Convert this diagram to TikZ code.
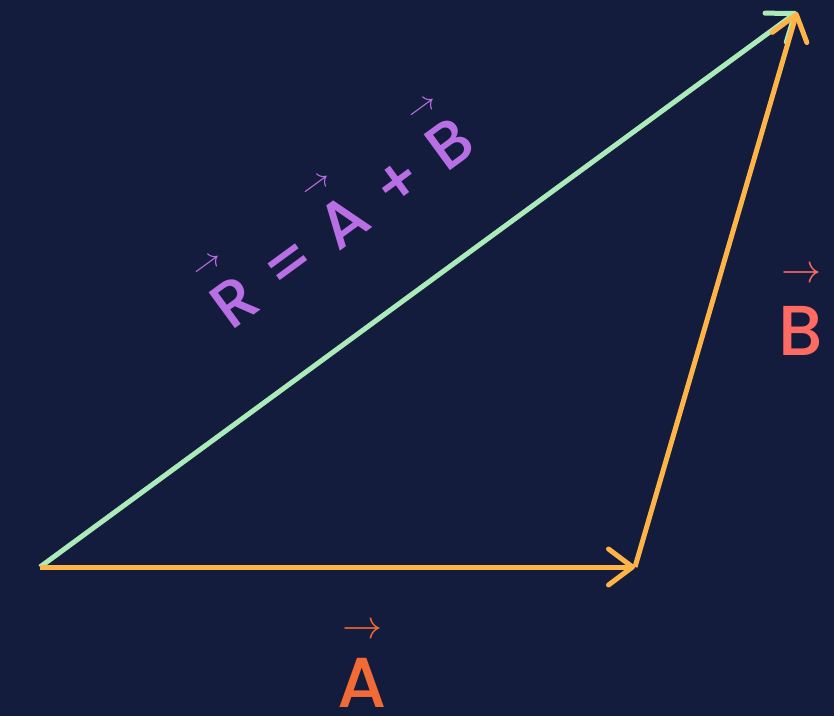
\documentclass[tikz,border=0pt]{standalone}
\usepackage{fontspec}
\usepackage{graphicx}
\setmainfont{Poppins Medium}
\usetikzlibrary{arrows.meta}

\definecolor{navy}{HTML}{141C3D}
\definecolor{mint}{HTML}{AAEBB9}
\definecolor{amber}{HTML}{FFB447}
\definecolor{rust}{HTML}{F26A35}
\definecolor{coral}{HTML}{FF6B63}
\definecolor{lilac}{HTML}{B86FE3}

% letter with a small arrow above it: [scale]{raise}{letter}
\newcommand{\ovec}[3][3]{\setbox0\hbox{#3}\rlap{\hbox to \wd0{\hss\raisebox{#2}[0pt][0pt]{\scalebox{#1}{\normalsize$\rightarrow$}}\hss}}#3}

\begin{document}
\begin{tikzpicture}[x=0.75pt, y=-0.75pt,
    vec/.style={line width=3.75pt, -{Straight Barb[length=18pt, width=27pt, round]}},
    biglabel/.style={inner sep=0pt, font=\fontsize{53pt}{60pt}\selectfont}]
  \fill[navy] (0,0) rectangle (834,716);
  \coordinate (O) at (40,567);
  \coordinate (P) at (635,567);
  \coordinate (Q) at (797,12);
  \draw[vec, mint] (O) -- (Q);
  \draw[vec, amber] (O) -- (P);
  \draw[vec, amber] (P) -- (Q);
  \node[biglabel, rust] (labA) at (362,683) {\ovec{0.98em}{A}};
  \node[biglabel, coral] (labB) at (801,331) {\ovec{1.03em}{B}};
  \node[inner sep=0pt, lilac, rotate=36.2, font=\fontsize{48pt}{56pt}\selectfont] (sum) at (342,223)
    {\ovec[2.3]{0.95em}{R}\hspace{0.08em} = \hspace{0.08em}\ovec[2.3]{0.95em}{A}\hspace{0.08em} + \hspace{0.08em}\ovec[2.3]{0.95em}{B}};
\end{tikzpicture}
\end{document}
